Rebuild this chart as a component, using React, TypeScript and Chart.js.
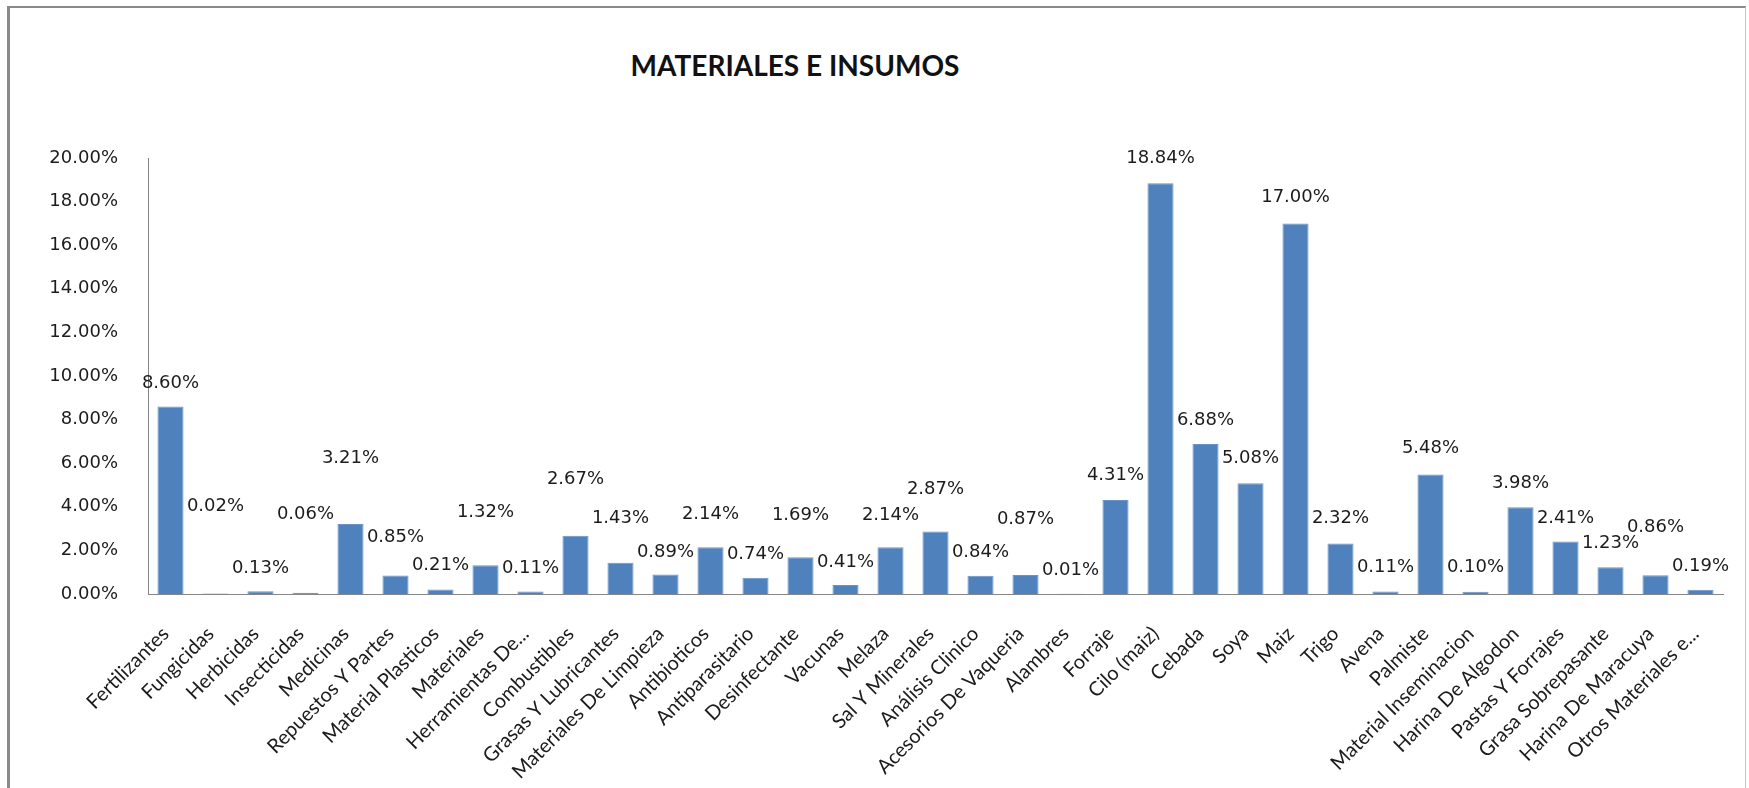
import React, { useEffect, useRef } from 'react';
import { Chart, registerables } from 'chart.js';

Chart.register(...registerables);

const titleText = 'MATERIALES E INSUMOS';

const categories = [
  'Fertilizantes', 'Fungicidas', 'Herbicidas', 'Insecticidas', 'Medicinas',
  'Repuestos Y Partes', 'Material Plasticos', 'Materiales', 'Herramientas De...',
  'Combustibles', 'Grasas Y Lubricantes', 'Materiales De Limpieza', 'Antibioticos',
  'Antiparasitario', 'Desinfectante', 'Vacunas', 'Melaza', 'Sal Y Minerales',
  'Análisis Clinico', 'Acesorios De Vaqueria', 'Alambres', 'Forraje', 'Cilo (maiz)',
  'Cebada', 'Soya', 'Maiz', 'Trigo', 'Avena', 'Palmiste', 'Material Inseminacion',
  'Harina De Algodon', 'Pastas Y Forrajes', 'Grasa Sobrepasante',
  'Harina De Maracuya', 'Otros Materiales e...',
];

// share of total, in percent
const shares = [
  8.60, 0.02, 0.13, 0.06, 3.21,
  0.85, 0.21, 1.32, 0.11,
  2.67, 1.43, 0.89, 2.14,
  0.74, 1.69, 0.41, 2.14, 2.87,
  0.84, 0.87, 0.01, 4.31, 18.84,
  6.88, 5.08, 17.00, 2.32, 0.11, 5.48, 0.10,
  3.98, 2.41, 1.23,
  0.86, 0.19,
];

// how far above each bar's top (in percentage points) the data label sits in the original
const labelLift = [
  1.08, 3.98, 1.06, 3.61, 3.03,
  1.76, 1.12, 2.44, 1.08,
  2.61, 2.06, 1.04, 1.53,
  1.09, 1.93, 1.06, 1.48, 1.95,
  1.09, 2.57, 1.09, 1.15, 1.16,
  1.10, 1.16, 1.20, 1.17, 1.13, 1.22, 1.14,
  1.11, 1.08, 1.11,
  2.21, 1.09,
];

const yMin = 0;
const yMax = 20;
const yStep = 2;

export default function App() {
  const canvasRef = useRef<HTMLCanvasElement | null>(null);

  useEffect(() => {
    const canvas = canvasRef.current;
    if (!canvas) return;

    const dataLabels = {
      id: 'dataLabels',
      afterDatasetsDraw(chart: any) {
        const ctx = chart.ctx;
        const meta = chart.getDatasetMeta(0);
        const yScale = chart.scales.y;
        ctx.save();
        ctx.font = '18px "DejaVu Sans"';
        ctx.fillStyle = '#1c1c1c';
        ctx.textAlign = 'center';
        ctx.textBaseline = 'middle';
        meta.data.forEach((bar: any, i: number) => {
          const v = shares[i];
          ctx.fillText(v.toFixed(2) + '%', bar.x, yScale.getPixelForValue(v + labelLift[i]));
        });
        ctx.restore();
      },
    };

    const chart = new Chart(canvas, {
      type: 'bar',
      data: {
        labels: categories,
        datasets: [
          {
            data: shares,
            backgroundColor: '#4F81BD',
            borderColor: '#6A94C8',
            borderWidth: 1,
            barPercentage: 0.58,
            categoryPercentage: 1,
          },
        ],
      },
      options: {
        animation: false,
        responsive: false,
        maintainAspectRatio: false,
        layout: { padding: { top: 158, left: 0, right: 26, bottom: 0 } },
        plugins: {
          legend: { display: false },
          tooltip: { enabled: false },
          title: { display: false },
        },
        scales: {
          x: {
            grid: { display: false, drawTicks: false },
            border: { display: true, color: '#868686', width: 1 },
            ticks: {
              autoSkip: false,
              maxRotation: 45,
              minRotation: 45,
              padding: 28,
              labelOffset: -5,
              color: '#1c1c1c',
              font: { family: 'Lato', size: 20 },
            },
            afterFit: (s: any) => {
              s.height = 194;
            },
          },
          y: {
            min: yMin,
            max: yMax,
            grid: { display: false, drawTicks: false },
            border: { display: true, color: '#868686', width: 1 },
            ticks: {
              stepSize: yStep,
              padding: 30,
              color: '#1c1c1c',
              font: { family: 'DejaVu Sans', size: 18 },
              callback: (v: any) => Number(v).toFixed(2) + '%',
            },
            afterFit: (s: any) => {
              s.width = 148;
            },
          },
        },
      },
      plugins: [dataLabels],
    });

    return () => chart.destroy();
  }, []);

  return (
    <div
      style={{
        position: 'absolute',
        left: 0,
        top: 0,
        width: 1749,
        height: 788,
        overflow: 'hidden',
        background: '#ffffff',
      }}
    >
      <div
        style={{
          position: 'absolute',
          left: 7,
          top: 6,
          width: 1735,
          height: 900,
          borderLeft: '3px solid #8a8a8a',
          borderTop: '2px solid #8a8a8a',
          borderRight: '1px solid #c4c4c4',
        }}
      />
      <div
        style={{
          position: 'absolute',
          left: 0,
          top: 48,
          width: 1590,
          textAlign: 'center',
          fontFamily: 'Lato, sans-serif',
          fontWeight: 700,
          fontSize: 28,
          lineHeight: '34px',
          color: '#111',
        }}
      >
        {titleText}
      </div>
      <canvas
        ref={canvasRef}
        width={1749}
        height={788}
        style={{ position: 'absolute', left: 0, top: 0, width: 1749, height: 788 }}
      />
    </div>
  );
}
